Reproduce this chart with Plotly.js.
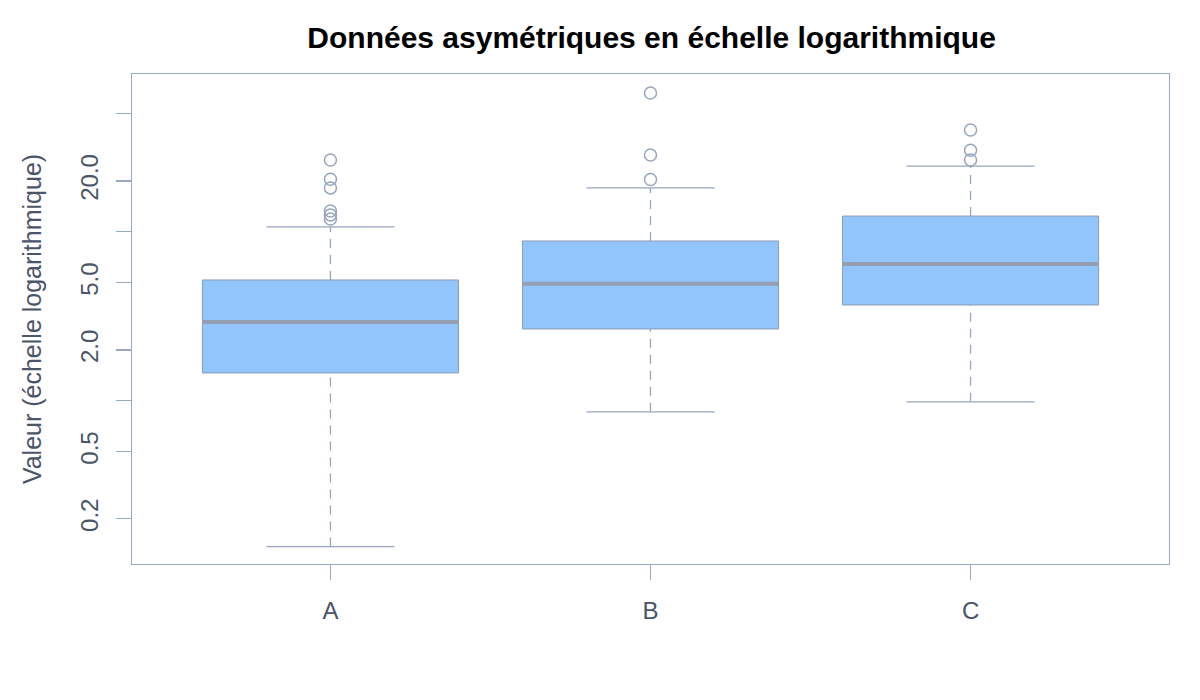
<!DOCTYPE html>
<html>
<head>
<meta charset="utf-8">
<script src="https://cdn.plot.ly/plotly-3.0.1.min.js"></script>
<style>html,body{margin:0;padding:0;background:#fff;}#chart{width:1200px;height:700px;}</style>
</head>
<body>
<div id="chart"></div>
<script>
// ---- data ----
const categories = ["A", "B", "C"];
const lowerWhisker = [0.137, 0.86, 0.985];
const q1 = [1.46, 2.66, 3.69];
const median = [2.93, 4.92, 6.45];
const q3 = [5.19, 8.83, 12.4];
const upperWhisker = [10.7, 18.2, 24.5];
const outliersA = [26.6, 20.5, 18.2, 13.3, 12.6, 11.9];
const outliersB = [66.4, 28.5, 20.4];
const outliersC = [40.1, 30.4, 26.6];
const outliers = [outliersA, outliersB, outliersC];
const yTickVals = [0.2, 0.5, 1, 2, 5, 10, 20, 50];
const yTickText = ["0.2", "0.5", "", "2.0", "5.0", "", "20.0", ""];

// ---- styling ----
const boxFill = "#93c5fd";
const boxLine = "#8c9cb6";
const medianColor = "#959fb2";
const whiskerColor = "#98a6bd";
const textColor = "#4a5568";
const frameColor = "#9aa8c0";
const halfBox = 0.4, halfStaple = 0.2;

const traces = [];
categories.forEach((c, i) => {
  const x = i + 1;
  // whiskers (dashed)
  traces.push({type: "scatter", mode: "lines", x: [x, x, null, x, x],
    y: [lowerWhisker[i], q1[i], null, q3[i], upperWhisker[i]],
    line: {color: whiskerColor, width: 1.3, dash: "9px,7px"}, hoverinfo: "skip", showlegend: false});
  // staples
  traces.push({type: "scatter", mode: "lines",
    x: [x - halfStaple, x + halfStaple, null, x - halfStaple, x + halfStaple],
    y: [lowerWhisker[i], lowerWhisker[i], null, upperWhisker[i], upperWhisker[i]],
    line: {color: whiskerColor, width: 1.3}, hoverinfo: "skip", showlegend: false});
  // box
  traces.push({type: "scatter", mode: "lines", fill: "toself", fillcolor: boxFill,
    x: [x - halfBox, x + halfBox, x + halfBox, x - halfBox, x - halfBox],
    y: [q1[i], q1[i], q3[i], q3[i], q1[i]],
    line: {color: boxLine, width: 1}, name: c, showlegend: false});
  // median
  traces.push({type: "scatter", mode: "lines", x: [x - halfBox, x + halfBox], y: [median[i], median[i]],
    line: {color: medianColor, width: 4}, hoverinfo: "skip", showlegend: false});
  // outliers
  traces.push({type: "scatter", mode: "markers", x: outliers[i].map(() => x), y: outliers[i],
    marker: {symbol: "circle-open", size: 12, color: whiskerColor, line: {width: 1.5, color: whiskerColor}},
    showlegend: false});
});

const layout = {
  width: 1200, height: 700,
  paper_bgcolor: "#ffffff", plot_bgcolor: "#ffffff",
  margin: {l: 132, r: 31, t: 74, b: 136},
  font: {family: "Liberation Sans, Arial, sans-serif", color: textColor, size: 24},
  title: {text: "<b>Données asymétriques en échelle logarithmique</b>",
    font: {size: 30, color: "#000000", family: "Liberation Sans, Arial, sans-serif"},
    x: 0.543, xanchor: "center", y: 0.946, yanchor: "middle", xref: "container", yref: "container"},
  xaxis: {range: [0.38, 3.62], tickvals: [1, 2, 3], ticktext: categories,
    showgrid: false, zeroline: false, showline: true, mirror: true, linecolor: frameColor, linewidth: 1.3,
    ticks: "outside", ticklen: 15, tickcolor: frameColor, tickwidth: 1.3,
    ticklabelstandoff: 10, tickfont: {size: 24, color: textColor}},
  yaxis: {type: "log", range: [Math.log10(0.108), Math.log10(86)],
    tickvals: yTickVals, ticktext: yTickText, tickangle: -90,
    showgrid: false, zeroline: false, showline: true, mirror: true, linecolor: frameColor, linewidth: 1.3,
    ticks: "outside", ticklen: 15, tickcolor: frameColor, tickwidth: 1.3,
    ticklabelstandoff: 8, tickfont: {size: 24, color: textColor}},
    // title set below to keep axis title as object
  showlegend: false
};
layout.yaxis.title = {text: "Valeur (échelle logarithmique)", font: {size: 25, color: textColor}, standoff: 27};

Plotly.newPlot("chart", traces, layout, {displayModeBar: false, staticPlot: true});
</script>
</body>
</html>
